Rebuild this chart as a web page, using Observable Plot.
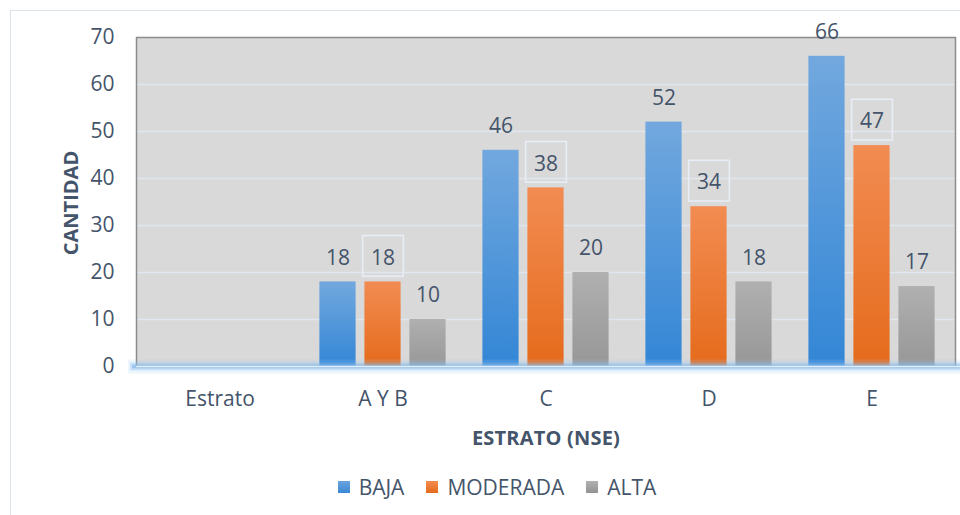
<!DOCTYPE html>
<html>
<head>
<meta charset="utf-8">
<script src="https://cdn.jsdelivr.net/npm/d3@7"></script>
<script src="https://cdn.jsdelivr.net/npm/@observablehq/plot@0.6"></script>
<style>
  html, body { margin: 0; padding: 0; background: #fff; }
  body { width: 960px; height: 515px; position: relative; overflow: hidden; font-family: "Open Sans", sans-serif; color: #44546a; }
  #frame { position: absolute; left: 10px; top: 10px; width: 960px; height: 520px; border: 1.5px solid #dde3eb; }
  #chart { position: absolute; left: 11px; top: 11px; }
  .title { position: absolute; font-weight: bold; font-size: 20px; color: #44546a; white-space: nowrap; }
  #ylab { left: 70px; top: 203px; transform: translate(-50%, -50%) rotate(-90deg); }
  #xlab { left: 546px; top: 437px; transform: translate(-50%, -50%); letter-spacing: 0.2px; }
  #legend { position: absolute; top: 487px; left: 17px; width: 960px; transform: translateY(-50%); display: flex; justify-content: center; gap: 0; font-size: 21px; }
  .item { display: flex; align-items: center; margin: 0 11px; }
  .sw { width: 12px; height: 12px; margin-right: 9px; }
</style>
</head>
<body>
<svg width="0" height="0" style="position:absolute">
  <defs>
    <linearGradient id="gBlue" x1="0" y1="0" x2="0" y2="1">
      <stop offset="0" stop-color="#72a8de"/>
      <stop offset="1" stop-color="#3386d6"/>
    </linearGradient>
    <linearGradient id="gOrange" x1="0" y1="0" x2="0" y2="1">
      <stop offset="0" stop-color="#f28c52"/>
      <stop offset="1" stop-color="#e56b1c"/>
    </linearGradient>
    <linearGradient id="gGray" x1="0" y1="0" x2="0" y2="1">
      <stop offset="0" stop-color="#b0b0b0"/>
      <stop offset="1" stop-color="#979797"/>
    </linearGradient>
  </defs>
</svg>
<div id="frame"></div>
<div id="chart"></div>
<div class="title" id="ylab">CANTIDAD</div>
<div class="title" id="xlab">ESTRATO (NSE)</div>
<div id="legend"></div>
<script>
const categories = ["Estrato", "A Y B", "C", "D", "E"];
const series = ["BAJA", "MODERADA", "ALTA"];
const baja = [null, 18, 46, 52, 66];
const moderada = [null, 18, 38, 34, 47];
const alta = [null, 10, 20, 18, 17];
const yTicks = [0, 10, 20, 30, 40, 50, 60, 70];

const values = {BAJA: baja, MODERADA: moderada, ALTA: alta};
const fills = {BAJA: "url(#gBlue)", MODERADA: "url(#gOrange)", ALTA: "url(#gGray)"};
const swatch = {BAJA: "linear-gradient(#6aa4dd,#3a88d6)", MODERADA: "linear-gradient(#f28c52,#e56b1c)", ALTA: "linear-gradient(#b0b0b0,#939393)"};
const offsets = {BAJA: -45, MODERADA: 0, ALTA: 45};

const rows = [];
series.forEach(s => categories.forEach((c, i) => {
  if (values[s][i] != null) rows.push({cat: c, series: s, value: values[s][i]});
}));

const W = 949, ML = 125, MR = 5;
const band = (W - ML - MR) / categories.length;
const inset = (band - 37) / 2;

const marks = [
  Plot.frame({fill: "#d9d9d9", stroke: null}),
  Plot.gridY(yTicks.slice(1, -1), {stroke: "#e1e7ef", strokeOpacity: 1, strokeWidth: 1.5}),
  Plot.frame({stroke: "#8c8c8c", strokeWidth: 1.5, fill: null})
];
series.forEach(s => {
  const d = rows.filter(r => r.series === s);
  marks.push(Plot.barY(d, {x: "cat", y: "value", fill: fills[s], dx: offsets[s], insetLeft: inset, insetRight: inset}));
});
marks.push(
  Plot.ruleY([0], {stroke: "#9ccaf2", strokeWidth: 14, strokeOpacity: 0.18, insetLeft: -8, insetRight: -10}),
  Plot.ruleY([0], {stroke: "#8dc0ef", strokeWidth: 8, strokeOpacity: 0.35, insetLeft: -6, insetRight: -10}),
  Plot.ruleY([0], {stroke: "#7fb6ea", strokeWidth: 4, strokeOpacity: 0.6, insetLeft: -4, insetRight: -10}),
  Plot.ruleY([0], {stroke: "#e4eef8", strokeWidth: 1.5, insetLeft: 0, insetRight: -10})
);
marks.push(Plot.dot(rows.filter(r => r.series === "MODERADA"), {
  x: "cat", y: "value", dx: 0, dy: -26, symbol: "square", r: 23, fill: "none", stroke: "#e8eef7", strokeWidth: 1.5
}));
series.forEach(s => {
  const d = rows.filter(r => r.series === s);
  marks.push(Plot.text(d, {x: "cat", y: "value", text: r => String(r.value), dx: offsets[s], dy: -24, fontSize: 21, fill: "#44546a"}));
});
marks.push(
  Plot.axisY({ticks: yTicks, tickSize: 0, tickPadding: 22, fontSize: 21, label: null}),
  Plot.axisX({tickSize: 0, tickPadding: 25, fontSize: 21, label: null})
);

const chart = Plot.plot({
  width: W, height: 445,
  marginLeft: ML, marginRight: MR, marginTop: 26, marginBottom: 90,
  style: {color: "#44546a", fontFamily: "Open Sans, sans-serif", background: "transparent", overflow: "visible"},
  x: {domain: categories, padding: 0},
  y: {domain: [0, 70]},
  marks
});
document.getElementById("chart").appendChild(chart);

const legend = document.getElementById("legend");
series.forEach(s => {
  const it = document.createElement("div");
  it.className = "item";
  it.innerHTML = `<span class="sw" style="background:${swatch[s]}"></span><span>${s}</span>`;
  legend.appendChild(it);
});
</script>
</body>
</html>
